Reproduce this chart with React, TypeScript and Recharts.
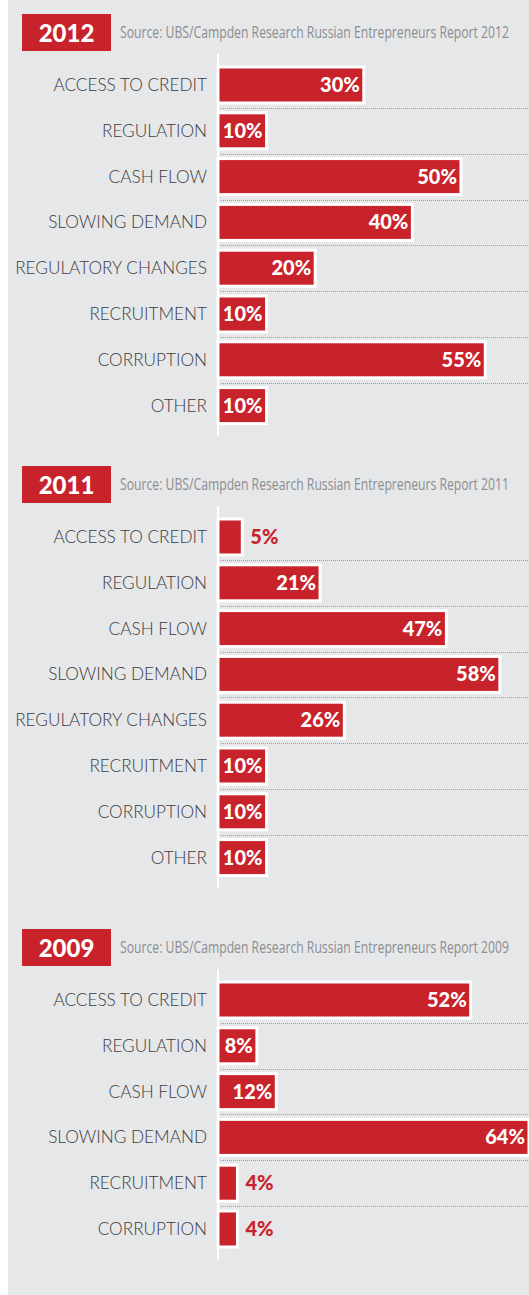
import { BarChart, Bar, XAxis, YAxis, LabelList } from "recharts"

const years = ["2012", "2011", "2009"]
const sourceText = "Source: UBS/Campden Research Russian Entrepreneurs Report"

const categories2012 = [
  "ACCESS TO CREDIT",
  "REGULATION",
  "CASH FLOW",
  "SLOWING DEMAND",
  "REGULATORY CHANGES",
  "RECRUITMENT",
  "CORRUPTION",
  "OTHER",
]
const values2012 = [30, 10, 50, 40, 20, 10, 55, 10]

const categories2011 = [
  "ACCESS TO CREDIT",
  "REGULATION",
  "CASH FLOW",
  "SLOWING DEMAND",
  "REGULATORY CHANGES",
  "RECRUITMENT",
  "CORRUPTION",
  "OTHER",
]
const values2011 = [5, 21, 47, 58, 26, 10, 10, 10]

const categories2009 = [
  "ACCESS TO CREDIT",
  "REGULATION",
  "CASH FLOW",
  "SLOWING DEMAND",
  "RECRUITMENT",
  "CORRUPTION",
]
const values2009 = [52, 8, 12, 64, 4, 4]

const RED = "#c8222b"
const BG = "#e6e7e9"
const CHART_W = 521
const ROW_H = 45.8
const PAD = 8
const headerTops = [14, 466, 929]
const SOURCE_FONT = '16px "Open Sans", sans-serif'
const SOURCE_W = 389

// the original uses a condensed face; squeeze Open Sans horizontally to the same width
function sourceScale(str: string) {
  const ctx = document.createElement("canvas").getContext("2d")
  if (!ctx) return 0.8
  ctx.font = SOURCE_FONT
  const w = ctx.measureText(str).width
  return w > 0 ? SOURCE_W / w : 0.8
}

interface SectionProps {
  year: string
  top: number
  categories: string[]
  values: number[]
}

function Section({ year, top, categories, values }: SectionProps) {
  const data = categories.map((name, i) => ({ name, value: values[i] }))
  const chartH = categories.length * ROW_H + PAD * 2
  const n = data.length
  const source = `${sourceText} ${year}`

  // bar with white border + dotted separator under it
  const renderBar = (props: any) => {
    const { x, y, width, height, index } = props
    const sepY = Math.round(y + height / 2 + ROW_H / 2) + 0.5
    return (
      <g>
        <rect x={x} y={y} width={Math.max(width, 0)} height={height} fill={RED} stroke="#fff" strokeWidth={3} />
        {index < n - 1 && (
          <line x1={x + 3} x2={CHART_W} y1={sepY} y2={sepY} stroke="#9d9d9f" strokeWidth={1} strokeDasharray="1 1" />
        )}
      </g>
    )
  }

  const renderLabel = (props: any) => {
    const { x, y, width, height, value } = props
    const inside = value >= 8
    return (
      <text
        x={inside ? x + width - 4 : x + width + 8}
        y={y + height / 2 + 7}
        textAnchor={inside ? "end" : "start"}
        fill={inside ? "#fff" : RED}
        fontFamily="Lato, sans-serif"
        fontWeight={900}
        fontSize={20}
      >
        {`${value}%`}
      </text>
    )
  }

  return (
    <>
      <div
        style={{
          position: "absolute",
          left: 14,
          top,
          width: 89,
          height: 37,
          background: RED,
          color: "#fff",
          fontFamily: "Lato, sans-serif",
          fontWeight: 900,
          fontSize: 24,
          lineHeight: "37px",
          textAlign: "center",
        }}
      >
        {year}
      </div>
      <div
        style={{
          position: "absolute",
          left: 112,
          top: top + 7,
          font: SOURCE_FONT,
          lineHeight: "22px",
          color: "#8c8d90",
          whiteSpace: "nowrap",
          transformOrigin: "0 0",
          transform: `scaleX(${sourceScale(source)})`,
        }}
      >
        {source}
      </div>
      <div style={{ position: "absolute", left: 0, top: top + 40 }}>
        <BarChart
          layout="vertical"
          width={CHART_W}
          height={chartH}
          data={data}
          margin={{ top: 0, right: 0, bottom: 0, left: 0 }}
        >
          <XAxis type="number" domain={[0, 64]} hide />
          <YAxis
            type="category"
            dataKey="name"
            width={210}
            padding={{ top: PAD, bottom: PAD }}
            axisLine={{ stroke: "#fff", strokeWidth: 2 }}
            tickLine={false}
            tickSize={0}
            tickMargin={11}
            interval={0}
            tick={{ fill: "#3c3c3e", fontFamily: "Lato, sans-serif", fontWeight: 300, fontSize: 17.2 }}
          />
          <Bar dataKey="value" barSize={36} fill={RED} shape={renderBar} isAnimationActive={false}>
            <LabelList dataKey="value" content={renderLabel} />
          </Bar>
        </BarChart>
      </div>
    </>
  )
}

export default function App() {
  return (
    <div
      style={{
        position: "absolute",
        left: 8,
        top: 0,
        width: CHART_W,
        height: 1295,
        background: BG,
        overflow: "hidden",
      }}
    >
      <Section year={years[0]} top={headerTops[0]} categories={categories2012} values={values2012} />
      <Section year={years[1]} top={headerTops[1]} categories={categories2011} values={values2011} />
      <Section year={years[2]} top={headerTops[2]} categories={categories2009} values={values2009} />
    </div>
  )
}
